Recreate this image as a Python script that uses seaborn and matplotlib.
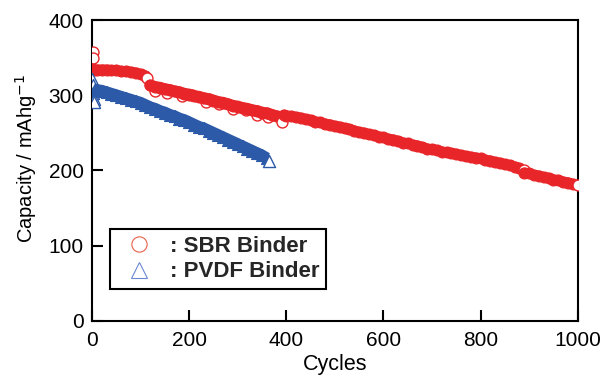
import matplotlib

matplotlib.use("Agg")

import matplotlib.pyplot as plt
import seaborn as sns
from matplotlib.lines import Line2D

# SBR binder (cycle, mAh/g)
sbr_first_cycles = [2, 3]
sbr_first_caps = [357, 349]

sbr_seg1_cycles = [1, 5, 10, 20, 30, 40, 50, 60, 70, 80, 90, 100, 110]
sbr_seg1_caps = [335, 334, 334, 334, 334, 333, 333, 332, 332, 331, 330, 328, 326]

sbr_seg2_cycles = [120, 130, 140, 150, 160, 170, 180, 190, 200, 210, 220, 230, 240, 250,
                   260, 270, 280, 290, 300, 310, 320, 330, 340, 350, 360, 370, 380, 390]
sbr_seg2_caps = [313, 311, 310, 308, 307, 305, 304, 302, 301, 299, 298, 296, 295, 293,
                 291, 290, 288, 286, 285, 283, 282, 280, 279, 277, 276, 274, 272, 270]

# scattered open rings poking out of the second segment
sbr_seg2_ring_cycles = [130, 155, 185, 205, 235, 262, 290, 318, 340, 362]
sbr_seg2_ring_caps = [306, 303, 299, 300, 291, 289, 282, 281, 274, 271]

sbr_seg3_cycles = [395, 400, 410, 420, 430, 440, 450, 460, 470, 480, 490, 500, 510, 520,
                   530, 540, 550, 560, 570, 580, 590, 600, 610, 620, 630, 640, 650, 660,
                   670, 680, 690, 700, 710, 720, 730, 740, 750, 760, 770, 780, 790, 800,
                   810, 820, 830, 840, 850, 860, 870, 880]
sbr_seg3_caps = [274, 273, 272, 271, 270, 268, 267, 265, 264, 262, 261, 259, 258, 256,
                 255, 253, 251, 250, 248, 247, 245, 244, 242, 241, 239, 237, 236, 234,
                 233, 231, 229, 228, 227, 225, 224, 223, 222, 220, 219, 218, 217, 216,
                 214, 213, 211, 210, 208, 207, 205, 203]

sbr_seg4_cycles = [890, 900, 910, 920, 930, 940, 950, 960, 970, 980, 990]
sbr_seg4_caps = [197, 196, 194, 193, 191, 190, 188, 187, 185, 184, 182]

sbr_end_cycles = [113, 392, 889, 1000]
sbr_end_caps = [323, 265, 200, 181]

# PVDF binder
pvdf_first_cycles = [1, 2, 3, 4, 5]
pvdf_first_caps = [322, 314, 303, 295, 291]

pvdf_cycles = [6, 10, 20, 30, 40, 50, 60, 70, 80, 90, 100, 110, 120, 130, 140, 150, 160,
               170, 180, 190, 200, 210, 220, 230, 240, 250, 260, 270, 280, 290, 300, 310,
               320, 330, 340, 350, 360]
pvdf_caps = [308, 307, 306, 304, 302, 300, 298, 296, 294, 292, 290, 287, 284, 282, 279,
             277, 274, 272, 269, 267, 264, 261, 258, 256, 253, 250, 247, 244, 241, 238,
             235, 232, 229, 226, 223, 220, 216]

pvdf_end_cycles = [365]
pvdf_end_caps = [212]

x_ticks = [0, 200, 400, 600, 800, 1000]
y_ticks = [0, 100, 200, 300, 400]

RED = "#e8262a"
BLUE = "#2c5aa8"

sns.set_theme(style="ticks")
plt.rcParams["font.family"] = ["Liberation Sans", "DejaVu Sans"]

fig = plt.figure(figsize=(6.05, 3.78), dpi=100)
ax = fig.add_axes([0.152, 0.151, 0.803, 0.796])

band = dict(ax=ax, s=62, color=RED, edgecolor=RED, linewidth=0.8, marker="o", legend=False, zorder=3)
ring = dict(ax=ax, s=62, color="white", edgecolor=RED, linewidth=1.0, marker="o", legend=False, zorder=3)
red_line = dict(ax=ax, color=RED, linewidth=7.5, legend=False, zorder=3,
                solid_capstyle="round", solid_joinstyle="round")


def red_segment(cycles, caps, width=7.5):
    sns.lineplot(x=cycles, y=caps, sort=False, estimator=None, **{**red_line, "linewidth": width})
    sns.scatterplot(x=cycles, y=caps, **band)


sns.scatterplot(x=sbr_first_cycles, y=sbr_first_caps, **ring)
red_segment(sbr_seg1_cycles, sbr_seg1_caps)
sns.scatterplot(x=sbr_end_cycles[:1], y=sbr_end_caps[:1], **ring)
sns.scatterplot(x=sbr_seg2_ring_cycles, y=sbr_seg2_ring_caps, **ring)
red_segment(sbr_seg2_cycles, sbr_seg2_caps, width=8.5)
sns.scatterplot(x=sbr_end_cycles[1:2], y=sbr_end_caps[1:2], **ring)
red_segment(sbr_seg3_cycles, sbr_seg3_caps)
sns.scatterplot(x=sbr_end_cycles[2:3], y=sbr_end_caps[2:3], **ring)
red_segment(sbr_seg4_cycles, sbr_seg4_caps)
sns.scatterplot(x=sbr_end_cycles[3:], y=sbr_end_caps[3:], **ring)

tri_band = dict(ax=ax, s=75, color=BLUE, edgecolor=BLUE, linewidth=0.8, marker="^", legend=False, zorder=4)
tri_ring = dict(ax=ax, s=75, color="white", edgecolor=BLUE, linewidth=1.0, marker="^", legend=False, zorder=4)

sns.scatterplot(x=pvdf_first_cycles, y=pvdf_first_caps, **tri_ring)
sns.lineplot(x=pvdf_cycles, y=pvdf_caps, ax=ax, color=BLUE, linewidth=8.5, legend=False, zorder=4,
             sort=False, estimator=None, solid_capstyle="butt")
sns.scatterplot(x=pvdf_cycles, y=pvdf_caps, **tri_band)
sns.scatterplot(x=pvdf_end_cycles, y=pvdf_end_caps, **tri_ring)

ax.set_xlim(0, 1000)
ax.set_ylim(0, 400)
ax.set_xticks(x_ticks)
ax.set_yticks(y_ticks)
ax.tick_params(direction="in", length=8, width=1.5, labelsize=15, colors="black")
ax.tick_params(axis="x", pad=7)
ax.tick_params(axis="y", pad=6)
ax.tick_params(top=False, right=False)
for spine in ax.spines.values():
    spine.set_visible(True)
    spine.set_linewidth(1.5)
    spine.set_color("black")

ax.set_xlabel("Cycles", fontsize=15.5, color="black", labelpad=3)
ax.set_ylabel("Capacity / mAhg$^{-1}$", fontsize=14.5, color="black")
ax.yaxis.set_label_coords(-0.108, 0.54)

handles = [
    Line2D([], [], linestyle="none", marker="o", markersize=11, markerfacecolor="none",
           markeredgecolor="#e8604a", markeredgewidth=0.8, label=": SBR Binder"),
    Line2D([], [], linestyle="none", marker="^", markersize=11, markerfacecolor="none",
           markeredgecolor="#6a88d0", markeredgewidth=0.8, label=": PVDF Binder"),
]
leg = ax.legend(handles=handles, loc="lower left", bbox_to_anchor=(0.037, 0.106),
                borderaxespad=0, fancybox=False, framealpha=1, edgecolor="black",
                prop={"weight": "bold", "size": 16}, handletextpad=0.4,
                labelspacing=0.2, borderpad=0.3, handlelength=2.0)
leg.get_frame().set_linewidth(1.5)

fig.savefig("out.png", dpi=100)
